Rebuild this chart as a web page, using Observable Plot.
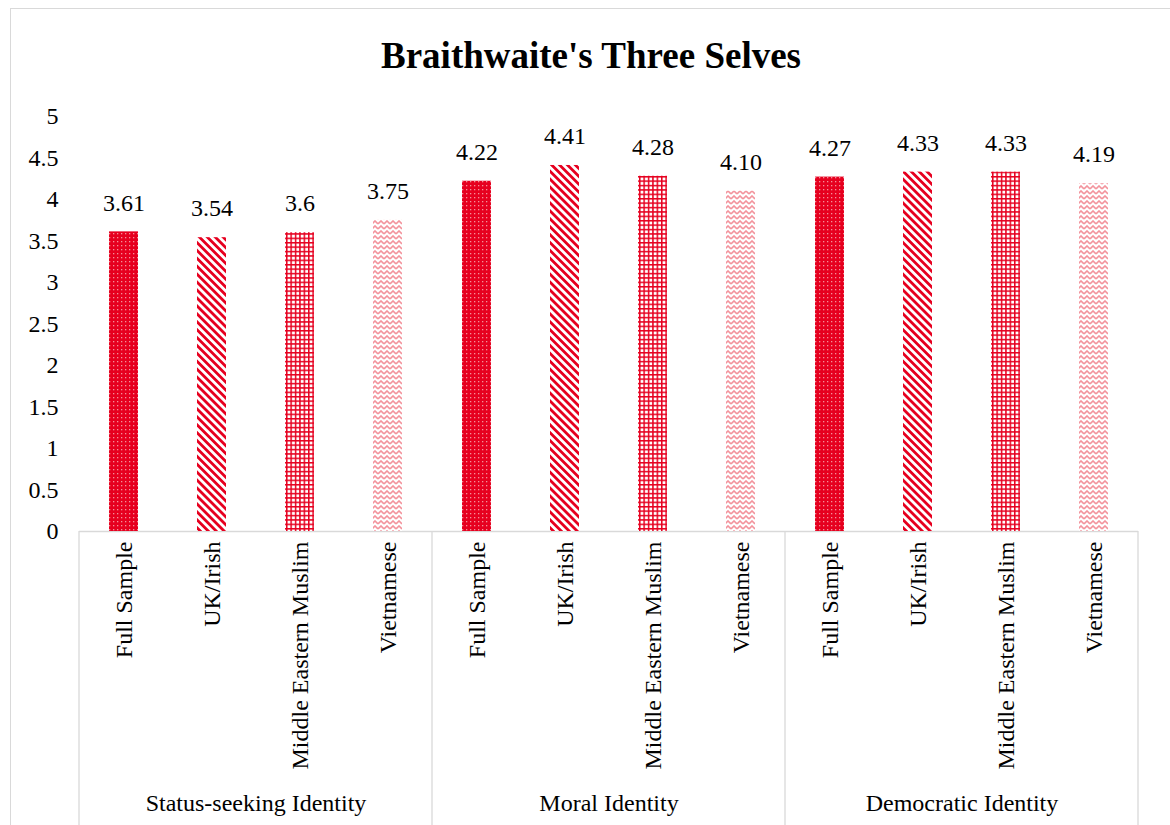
<!DOCTYPE html>
<html>
<head>
<meta charset="utf-8">
<script src="https://cdn.jsdelivr.net/npm/d3@7"></script>
<script src="https://cdn.jsdelivr.net/npm/@observablehq/plot@0.6"></script>
<style>
  html, body { margin: 0; padding: 0; background: #fff; }
  #page { position: relative; width: 1170px; height: 825px; overflow: hidden; background: #fff; }
  #border { position: absolute; left: 10px; top: 8px; width: 1300px; height: 1000px; border: 1px solid #d9d9d9; box-sizing: border-box; }
  #title { position: absolute; left: 0; width: 1182px; top: 37px; text-align: center;
           font: bold 37px/1 "Liberation Serif", "Times New Roman", serif; color: #000; }
  #chart { position: absolute; left: 0; top: 0; }
  #chart svg text { font-family: "Liberation Serif", "Times New Roman", serif; }
</style>
</head>
<body>
<div id="page">
  <div id="border"></div>
  <div id="title">Braithwaite's Three Selves</div>
  <div id="chart"></div>
</div>
<script>
// Identity groups (bottom axis) and the four samples within each group
const groups = ["Status-seeking Identity", "Moral Identity", "Democratic Identity"];
const samples = ["Full Sample", "UK/Irish", "Middle Eastern Muslim", "Vietnamese"];

// Mean scores as printed above the bars, one list per identity
const statusSeeking = ["3.61", "3.54", "3.6", "3.75"];
const moral = ["4.22", "4.41", "4.28", "4.10"];
const democratic = ["4.27", "4.33", "4.33", "4.19"];

const yTicks = [0, 0.5, 1, 1.5, 2, 2.5, 3, 3.5, 4, 4.5, 5];

const RED = "#e6001f";
const PINK = "#f3949d";
const FONT = '"Liberation Serif", "Times New Roman", serif';
const FS = 24;

// Hatch fill for each sample
const patternId = {
  "Full Sample": "pat-dots",
  "UK/Irish": "pat-diag",
  "Middle Eastern Muslim": "pat-grid",
  "Vietnamese": "pat-zigzag"
};

const rows = [statusSeeking, moral, democratic].flatMap((vals, gi) =>
  vals.map((label, si) => ({
    group: groups[gi],
    sample: samples[si],
    label,
    value: Number(label),
    fill: `url(#${patternId[samples[si]]})`
  }))
);

const chart = Plot.plot({
  width: 1170,
  height: 825,
  marginLeft: 79,
  marginRight: 32,
  marginTop: 116,
  marginBottom: 294,
  style: { fontFamily: FONT, fontSize: FS + "px", color: "#000", background: "transparent", overflow: "visible" },
  fx: { domain: groups, padding: 0, label: null },
  x: { domain: samples, paddingInner: 0.67, paddingOuter: 0.335, label: null },
  y: { domain: [0, 5], label: null },
  color: { type: "identity" },
  marks: [
    Plot.ruleY([0], { stroke: "#d9d9d9", strokeWidth: 1.3 }),
    Plot.barY(rows, { fx: "group", x: "sample", y: "value", fill: "fill" }),
    Plot.text(rows, { fx: "group", x: "sample", y: "value", text: "label", dy: -29, fontSize: FS, fontFamily: FONT, fill: "#000" }),
    Plot.axisY(yTicks, { tickSize: 0, tickPadding: 21, fontSize: FS, fontFamily: FONT, tickFormat: d => String(d), label: null }),
    Plot.axisX({ tickRotate: -90, tickSize: 0, tickPadding: 10, fontSize: FS, fontFamily: FONT, label: null }),
    Plot.axisFx({ anchor: "bottom", tickSize: 0, tickPadding: 262, fontSize: FS, fontFamily: FONT, label: null })
  ]
});

// Pattern definitions for the hatched bar fills
const svg = d3.select(chart);
const defs = svg.insert("defs", ":first-child");

const dots = defs.append("pattern").attr("id", "pat-dots")
  .attr("patternUnits", "userSpaceOnUse").attr("width", 4).attr("height", 4);
dots.append("rect").attr("width", 4).attr("height", 4).attr("fill", RED);
dots.append("rect").attr("x", 1).attr("y", 1).attr("width", 1.3).attr("height", 1.3).attr("fill", "#f58f9a");

const diag = defs.append("pattern").attr("id", "pat-diag")
  .attr("patternUnits", "userSpaceOnUse").attr("width", 5.6).attr("height", 5.6)
  .attr("patternTransform", "rotate(-45)");
diag.append("rect").attr("width", 5.6).attr("height", 5.6).attr("fill", "#fff");
diag.append("rect").attr("width", 2.8).attr("height", 5.6).attr("fill", RED);

const grid = defs.append("pattern").attr("id", "pat-grid")
  .attr("patternUnits", "userSpaceOnUse").attr("width", 4.4).attr("height", 4.4);
grid.append("rect").attr("width", 4.4).attr("height", 4.4).attr("fill", "#fff");
grid.append("rect").attr("width", 1.5).attr("height", 4.4).attr("fill", RED);
grid.append("rect").attr("width", 4.4).attr("height", 1.5).attr("fill", RED);

const zig = defs.append("pattern").attr("id", "pat-zigzag")
  .attr("patternUnits", "userSpaceOnUse").attr("width", 6).attr("height", 5);
zig.append("rect").attr("width", 6).attr("height", 5).attr("fill", "#fff");
zig.append("path").attr("d", "M0,4 L3,1 L6,4").attr("fill", "none")
  .attr("stroke", PINK).attr("stroke-width", 1.6);

// Category-axis dividers at the edges of each identity group
const fx = chart.scale("fx");
const y = chart.scale("y");
const y0 = y.apply(0);
const edges = groups.map(g => fx.apply(g)).concat([fx.apply(groups[groups.length - 1]) + fx.step]);
svg.append("g").selectAll("line").data(edges).join("line")
  .attr("x1", d => d).attr("x2", d => d)
  .attr("y1", y0).attr("y2", 825)
  .attr("stroke", "#d9d9d9").attr("stroke-width", 1.3);

document.getElementById("chart").appendChild(chart);
</script>
</body>
</html>
